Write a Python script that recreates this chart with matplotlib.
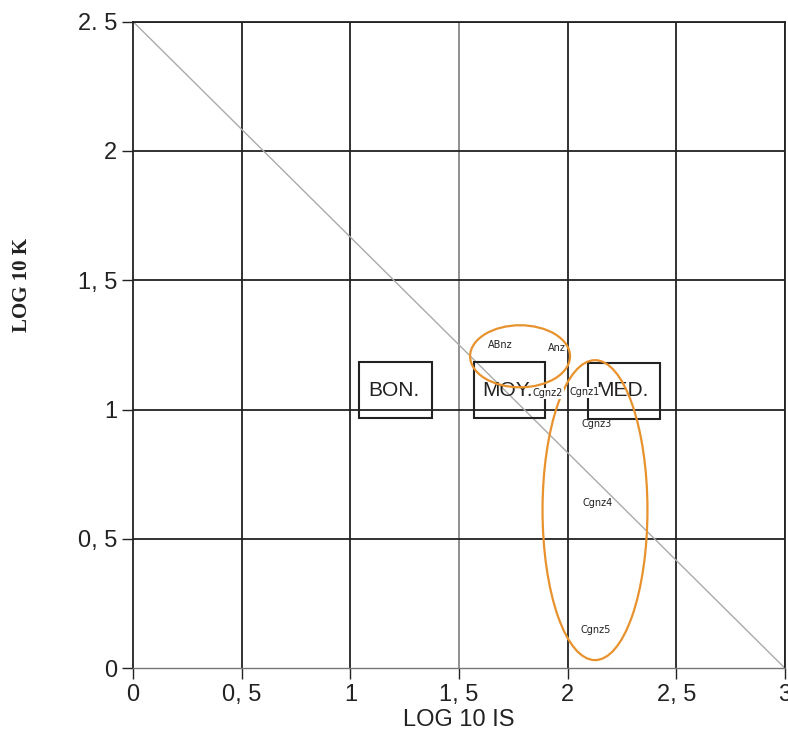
import matplotlib.pyplot as plt
from matplotlib.patches import Rectangle, Ellipse

# samples (log10 IS, log10 K)
names = ['ABnz', 'Anz', 'Cgnz2', 'Cgnz1', 'Cgnz3', 'Cgnz4', 'Cgnz5']
log_is = [1.69, 1.95, 1.91, 2.08, 2.135, 2.14, 2.13]
log_k = [1.25, 1.24, 1.063, 1.067, 0.944, 0.638, 0.147]

# quality classes
classes = ['BON.', 'MOY.', 'MED.']
class_x0 = [1.04, 1.569, 2.094]
class_x1 = [1.376, 1.896, 2.425]
class_y0 = [0.967, 0.967, 0.965]
class_y1 = [1.183, 1.183, 1.18]

# orange groupings
ell_cx = [1.781, 2.126]
ell_cy = [1.206, 0.611]
ell_w = [0.46, 0.483]
ell_h = [0.24, 1.16]

xticks = [0, 0.5, 1, 1.5, 2, 2.5, 3]
xtick_labels = ['0', '0, 5', '1', '1, 5', '2', '2, 5', '3']
yticks = [0, 0.5, 1, 1.5, 2, 2.5]
ytick_labels = ['0', '0, 5', '1', '1, 5', '2', '2. 5']

plt.rcParams['font.family'] = ['Liberation Sans', 'DejaVu Sans']

fig = plt.figure(figsize=(7.88, 7.49), dpi=100)
ax = fig.add_axes([0.169, 0.108, 0.827, 0.863])
ax.set_xlim(0, 3)
ax.set_ylim(0, 2.5)

# grid
for x in xticks[1:]:
    c = '#888888' if x == 1.5 else '#222222'
    ax.axvline(x, color=c, lw=1.3, zorder=1)
for y in yticks[1:]:
    ax.axhline(y, color='#222222', lw=1.3, zorder=1)

# limit line
ax.plot([0, 3], [2.5, 0], color='#aaaaaa', lw=1, zorder=2)

# class boxes
for lab, x0, x1, y0, y1 in zip(classes, class_x0, class_x1, class_y0, class_y1):
    ax.add_patch(Rectangle((x0, y0), x1 - x0, y1 - y0, fill=False,
                           edgecolor='#222222', lw=1.5, zorder=3))
    ax.text(x0 + 0.04, (y0 + y1) / 2, lab, fontsize=15, va='center',
            ha='left', color='#222222', zorder=4)

# ellipses
for cx, cy, w, h in zip(ell_cx, ell_cy, ell_w, ell_h):
    ax.add_patch(Ellipse((cx, cy), w, h, fill=False, edgecolor='#E8922E',
                         lw=1.6, zorder=5))

# sample labels
for n, x, y in zip(names, log_is, log_k):
    bbox = dict(facecolor='white', edgecolor='none', pad=0.5) if n in ('Cgnz1', 'Cgnz2') else None
    ax.text(x, y, n, fontsize=7, ha='center', va='center', family='DejaVu Sans',
            color='#222222', bbox=bbox, zorder=6)

ax.set_xticks(xticks)
ax.set_xticklabels(xtick_labels, fontsize=17)
ax.set_yticks(yticks)
ax.set_yticklabels(ytick_labels, fontsize=17)
ax.tick_params(direction='out', length=8, width=1, color='#222222', labelcolor='#222222')

for s in ['left', 'top', 'right']:
    ax.spines[s].set_color('#222222')
    ax.spines[s].set_linewidth(1.3)
ax.spines['bottom'].set_color('#777777')
ax.spines['bottom'].set_linewidth(1)

ax.set_xlabel('LOG 10 IS', fontsize=17, color='#222222', labelpad=2)
ax.set_ylabel('LOG 10 K', fontsize=15, family='Liberation Serif', weight='bold',
              color='#222222')
ax.yaxis.set_label_coords(-0.155, 0.593)

fig.savefig('out.png', dpi=100)
